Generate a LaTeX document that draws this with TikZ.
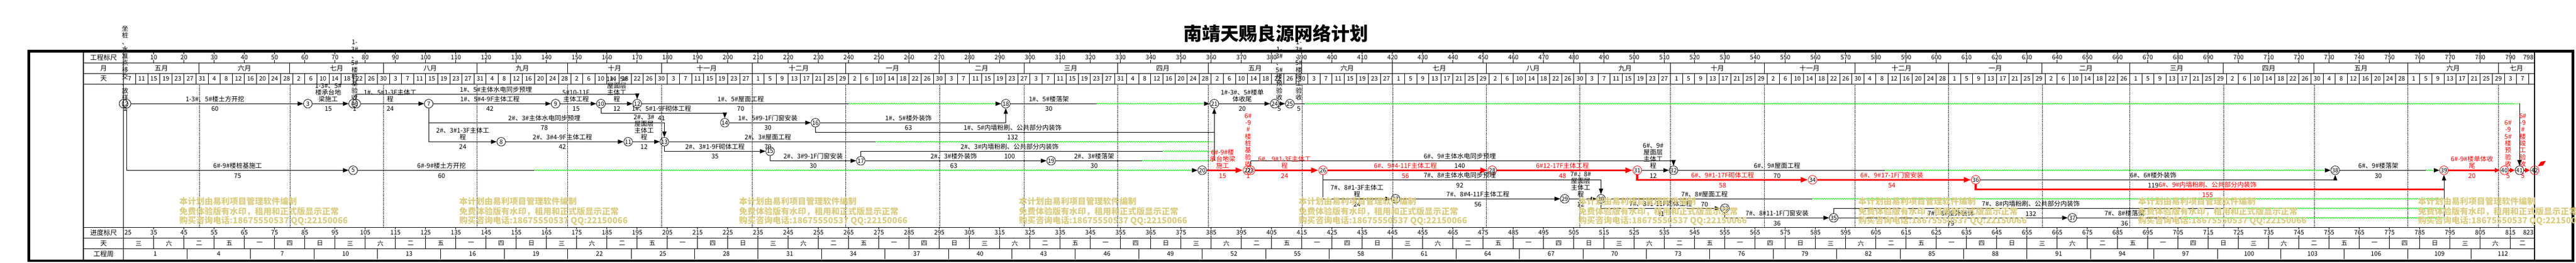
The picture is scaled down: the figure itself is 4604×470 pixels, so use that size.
\documentclass[tikz,border=0pt]{standalone}
\usepackage{fontspec}
\setmainfont{Noto Sans CJK SC}
\usetikzlibrary{arrows.meta,decorations.pathmorphing}
\definecolor{fgreen}{RGB}{0,235,0}
\definecolor{wmark}{RGB}{218,204,130}
\newcommand\myfs[2]{\fontsize{#1}{#2}\selectfont}
\newcount\mydd \newcount\mymi \newcount\myml \newcount\lc
\def\mymlen#1{\ifcase#1 31 \or 30 \or 31 \or 31 \or 30 \or 31 \or 30 \or 31 \or 31 \or 28 \or 31 \or 30 \or 31 \or 30 \or 31 \or 31 \or 30 \or 31 \or 30 \or 31 \or 31 \or 29 \or 31 \or 30 \or 31 \or 30 \or 31 \fi}
\def\wkname#1{\ifcase#1 日\or 一\or 二\or 三\or 四\or 五\or 六\fi}
\newcommand\alab[5]{\global\advance\lc by 1
  \node[lab,#5] (la\the\lc) at ({dx(#1)},{ly(#2)-2.6}) {#3};
  \node[dur,#5] (lb\the\lc) at ({dx(#1)},{ly(#2)+9.7}) {#4};}
\newcommand\vlab[5]{\global\advance\lc by 1
  \node[vlab,#5] (la\the\lc) at ({dx(#1)},{ly(#2)-5.3}) {#3};
  \node[dur0,#5] (lb\the\lc) at ({dx(#1)},{ly(#2)+9.7}) {#4};}
\begin{document}
\begin{tikzpicture}[x=1pt,y=-1pt,
  declare function={dx(\d)=220.8+5.4*\d; ly(\k)=168.3+17*\k;},
  nd/.style={circle,draw,line width=0.8pt,minimum size=15.5pt,inner sep=0pt,font=\myfs{10.5}{10.5}},
  act/.style={line width=0.9pt,-{Triangle[length=10pt,width=7.5pt]}},
  ln/.style={line width=0.9pt},
  cr/.style={line width=3.5pt,red,-{Triangle[length=13pt,width=9pt]}},
  crs/.style={line width=3.5pt,red,-{Triangle[length=9pt,width=8pt]}},
  crl/.style={line width=3.5pt,red},
  fl/.style={fgreen,line width=0.8pt,decorate,decoration={snake,amplitude=0.9pt,segment length=4pt,post length=10pt}},
  fla/.style={fl,-{Triangle[length=10pt,width=7.5pt,color=black]}},
  lab/.style={anchor=south,inner sep=0pt,align=center,text depth=1.4pt,font=\myfs{11.5}{12},xshift=-4pt},
  vlab/.style={anchor=south,inner sep=0pt,align=center,text depth=1.4pt,font=\myfs{11.5}{12.3}},
  dur0/.style={anchor=center,inner sep=0pt,text height=8pt,text depth=0pt,font=\myfs{11.5}{12}},
  dur/.style={dur0,xshift=-4pt},
  hnum/.style={inner sep=0pt,font=\myfs{11}{11}},
  hcol/.style={inner sep=0pt,font=\myfs{12}{12}},
  wm/.style={anchor=west,inner sep=0pt,text=wmark,font=\bfseries\myfs{15}{15}},
  rowl/.style={line width=1pt}
]
\useasboundingbox (0,0) rectangle (4604,470);
\foreach \k in {0,...,13} \coordinate (L\k) at (0,{ly(\k)});

% ---------- month lines and header month row ----------
\foreach \a/\b/\m [count=\c] in {0/25/五月,25/55/六月,55/86/七月,86/117/八月,117/147/九月,147/178/十月,178/208/十一月,208/239/十二月,239/270/一月,270/298/二月,298/329/三月,329/359/四月,359/390/五月,390/420/六月,420/451/七月,451/482/八月,482/512/九月,512/543/十月,543/573/十一月,573/604/十二月,604/635/一月,635/664/二月,664/695/三月,695/725/四月,725/756/五月,756/786/六月,786/798/七月}{
  \node[hcol] (mo\c) at ({dx((\a+\b)/2)},121.8) {\m};
  \ifnum\b<798
    \draw[line width=0.9pt] ({dx(\b)},112.3) -- ({dx(\b)},131.3);
    \draw[line width=0.6pt,densely dotted] ({dx(\b)},150.3) -- ({dx(\b)},406.7);
  \fi
}

% ---------- row lines ----------
\foreach \yy in {112.3,131.3,150.3,406.7,425.7,444.3} \draw[rowl] (149,\yy) -- (4530,\yy);

% ---------- scales ----------
\foreach \k in {1,...,79}{
  \pgfmathtruncatemacro\tv{10*\k}
  \pgfmathtruncatemacro\pv{10*\k+25}
  \draw[line width=0.8pt] ({dx(\tv)},94.3) -- ({dx(\tv)},97.5) ({dx(\tv)},107.5) -- ({dx(\tv)},112.3);
  \node[hnum] (gs\k) at ({dx(\tv)},103) {\tv};
  \draw[line width=0.8pt] ({dx(\tv)},406.7) -- ({dx(\tv)},410) ({dx(\tv)},420.5) -- ({dx(\tv)},425.7);
  \node[hnum] (js\k) at ({dx(\tv)},415.5) {\pv};
}
\node[hnum,anchor=east] (gsend) at (4528,103) {798};
\node[hnum,anchor=west] (js0) at (222.5,415.5) {25};
\node[hnum,anchor=east] (jsend) at (4528,415.5) {823};

% ---------- day row ----------
\global\mydd=7 \global\mymi=0
\foreach \i in {0,...,198}{
  \node[hnum] (dy\i) at ({dx(4*\i+2)},140.8) {\the\mydd};
  \draw[line width=0.9pt] ({dx(4*\i+4)},131.3) -- ({dx(4*\i+4)},150.3);
  \global\advance\mydd by 4
  \global\myml=\mymlen{\mymi}\relax
  \ifnum\mydd>\myml \global\advance\mydd by -\myml \global\advance\mymi by 1 \fi
}

% ---------- weekday row ----------
\foreach \k in {0,...,79}{
  \pgfmathtruncatemacro\w{mod(3+10*\k,7)}
  \pgfmathsetmacro\cx{min(10*\k+5,794)}
  \node[hnum] (wd\k) at ({dx(\cx)},435) {\wkname{\w}};
  \ifnum\k<79 \draw[line width=0.9pt] ({dx(10*\k+10)},425.7) -- ({dx(10*\k+10)},444.3); \fi
}

% ---------- week row ----------
\foreach \j in {0,...,37}{
  \pgfmathtruncatemacro\wn{3*\j+1}
  \node[hnum] (gz\j) at ({dx(21*\j+10.5)},453.8) {\wn};
  \ifnum\j<37 \draw[line width=0.9pt] ({dx(21*\j+21)},444.3) -- ({dx(21*\j+21)},463.3); \fi
}

% ---------- column labels ----------
\node[hcol] (c1) at (185,103) {工程标尺};
\node[hcol] (c2) at (185,121.8) {月};
\node[hcol] (c3) at (185,140.8) {天};
\node[hcol] (c4) at (185,416.2) {进度标尺};
\node[hcol] (c5) at (185,435) {天};
\node[hcol] (c6) at (185,453.8) {工程周};

% ---------- frame ----------
\draw[line width=2pt] (149,94) -- (149,463.6);
\draw[line width=1.2pt] (220.8,94) -- (220.8,463.6);
\draw[line width=1.2pt] (4530,94) -- (4530,463.6);
\draw[line width=4.7pt] (51.35,91.65) rectangle (4598.6,465.95);

% ---------- title ----------
\node[font=\bfseries\myfs{33}{33},inner sep=0pt] (title) at (2280,60) {南靖天赐良源网络计划};

% ---------- nodes ----------
\foreach \n/\d/\l/\c in {1/0/1/black,2/1/1/black,3/61/1/black,4/76/1/black,6/77/1/black,5/76/8/black,7/101/1/black,8/125/5/black,9/143/1/black,10/158/1/black,11/167/5/black,12/170/1/black,13/179/5/black,14/199/3/black,15/214/6/black,16/229/3/black,17/244/7/black,18/292/1/black,19/307/7/black,20/357/8/black,21/361/1/black,22/372/8/red,23/373/8/red,24/381/1/black,25/386/1/black,26/397/8/red,27/421/11/black,28/453/8/red,29/477/11/black,30/489/11/black,31/501/8/red,32/513/8/black,33/530/12/black,34/559/9/red,35/566/13/black,36/613/9/red,37/645/13/black,38/732/8/black,39/768/8/red,40/788/8/red,41/793/8/black,42/798/8/red}
  \node[nd,draw=\c] (n\n) at ({dx(\d)},{ly(\l)}) {\n};

\coordinate (e5) at ({dx(136)},{ly(8)});
\coordinate (e12) at ({dx(240)},{ly(1)});
\coordinate (e13) at ({dx(249)},{ly(5)});
\coordinate (e17) at ({dx(344)},{ly(6)});
\coordinate (e18) at ({dx(322)},{ly(1)});
\coordinate (e19) at ({dx(337)},{ly(7)});
\coordinate (e25) at ({dx(391)},{ly(1)});
\coordinate (e30) at ({dx(559)},{ly(11)});
\coordinate (e32) at ({dx(583)},{ly(8)});
\coordinate (e35) at ({dx(698)},{ly(12)});
\coordinate (e37) at ({dx(681)},{ly(13)});
\coordinate (e38) at ({dx(762)},{ly(8)});

% ---------- connectors ----------
\draw[act] (n2) -- (n3);
\draw[act] (n3) -- (n4);
\draw[act] (n6) -- (n7);
\draw[act] (n6) |- (n12 |- L0) -- (n12);
\draw[act] (n7) -- (n9);
\draw[act] (n9) -- (n10);
\draw[act] (n10) -- (n12);
\draw[act] (n10) |- (n14 |- L2) -- (n14);
\draw[act] (n7) |- (n13 |- L3) -- (n13);
\draw[act] (n7) |- (n8);
\draw[act] (n8) -- (n11);
\draw[act] (n11) -- (n13);
\draw[ln] (n12) -- (e12);
\draw[fla] (e12) -- (n18);
\draw[act] (n14) -- (n16);
\draw[ln] (n13) -- (e13);
\draw[fl] (e13) -- (n21 |- L5);
\draw[act] (n13) |- (n15);
\draw[act] (n15) |- (n17);
\draw[act] (n16) -| (n18);
\draw[ln] (n16) |- (n21 |- L4);
\draw[ln] (n18) -- (e18);
\draw[fla] (e18) -- (n21);
\draw[act] (n21) -- (n24);
\draw[act] (n24) -- (n25);
\draw[ln] (n25) -- (e25);
\draw[fl] (e25) -- (n41 |- L1);
\draw[act] (n41 |- L1) -- (n41);
\draw[act] (n17) -- (n19);
\draw[ln] (n17) |- (e17);
\draw[fl] (e17) -- (n21 |- L6);
\draw[ln] (n19) -- (e19);
\draw[fl] (e19) -- (n21 |- L7);
\draw[act] (n21 |- L7) -- (n21);
\draw[act] (n2) |- (n5);
\draw[ln] (n5) -- (e5);
\draw[fla] (e5) -- (n20);
\draw[cr] (n20) -- (n22);
\draw[cr] (n23) -- (n26);
\draw[act] (n23) |- (n32 |- L7) -- (n32);
\draw[cr] (n26) -- (n28);
\draw[cr] (n28) -- (n31);
\draw[act] (n31) -- (n32);
\draw[cr] (n31) |- (n34);
\draw[ln] (n32) -- (e32);
\draw[fla] (e32) -- (n38);
\draw[cr] (n34) -- (n36);
\draw[act] (n36) -| (n38);
\draw[crl] (n36) |- (n39 |- L10);
\draw[ln] (n38) -- (e38);
\draw[fla] (e38) -- (n39);
\draw[act] (n39 |- L13) -- (n39);
\draw[crs] (n39) -- (n40);
\draw[crs] (n40) -- (n41);
\draw[crs] (n41) -- (n42);
\draw[act] (n26) |- (n30 |- L9) -- (n30);
\draw[act] (n26) |- (n27);
\draw[act] (n27) -- (n29);
\draw[act] (n29) -- (n30);
\draw[ln] (n30) -- (e30);
\draw[fl] (e30) -- (n39 |- L11);
\draw[act] (n30) |- (n33);
\draw[act] (n33) |- (n35);
\draw[act] (n35) -- (n37);
\draw[ln] (n35) |- (e35);
\draw[fl] (e35) -- (n39 |- L12);
\draw[ln] (n37) -- (e37);
\draw[fl] (e37) -- (n39 |- L13);
\fill[red] (4536,297) -- (4541,289) -- (4550,287.5) -- (4545,296) -- cycle;

% ---------- activity labels ----------
\alab{31}{1}{1-3\#、5\#楼土方开挖}{60}{}
\alab{68.5}{1}{1-3\#、5\#\\楼承台地\\梁施工}{15}{}
\alab{89}{1}{1\#、5\#1-3F主体工\\程}{24}{}
\alab{122}{1}{1\#、5\#4-9F主体工程}{42}{}
\alab{150.5}{1}{5\#10-11F\\主体工程}{15}{}
\alab{164}{1}{1\#、5\#\\屋面层\\主体工\\程}{12}{}
\alab{205}{1}{1\#、5\#屋面工程}{70}{}
\alab{307}{1}{1\#、5\#楼落架}{30}{}
\alab{371}{1}{1\#-3\#、5\#楼单\\体收尾}{20}{}
\alab{124}{0}{1\#、5\#主体水电同步预埋}{}{}
\alab{178.8}{2}{1\#、5\#1-9F砌体工程}{41}{}
\alab{140}{3}{2\#、3\#主体水电同步预埋}{78}{}
\alab{214}{3}{1\#、5\#9-1F门窗安装}{30}{}
\alab{260.5}{3}{1\#、5\#楼外装饰}{63}{}
\alab{295}{4}{1\#、5\#内墙粉刷、公共部分内装饰}{132}{}
\alab{113}{5}{2\#、3\#1-3F主体工\\程}{24}{}
\alab{146}{5}{2\#、3\#4-9F主体工程}{42}{}
\alab{173}{5}{2\#、3\#\\屋面层\\主体工\\程}{12}{}
\alab{214}{5}{2\#、3\#屋面工程}{70}{}
\alab{196.5}{6}{2\#、3\#1-9F砌体工程}{35}{}
\alab{294}{6}{2\#、3\#内墙粉刷、公共部分内装饰}{100}{}
\alab{229}{7}{2\#、3\#9-1F门窗安装}{30}{}
\alab{275.5}{7}{2\#、3\#楼外装饰}{63}{}
\alab{322}{7}{2\#、3\#楼落架}{30}{}
\alab{443}{7}{6\#、9\#主体水电同步预埋}{140}{}
\alab{38.5}{8}{6\#-9\#楼桩基施工}{75}{}
\alab{106}{8}{6\#-9\#楼土方开挖}{60}{}
\alab{364.5}{8}{6\#-9\#楼\\承台地梁\\施工}{15}{text=red}
\alab{385}{8}{6\#、9\#1-3F主体工\\程}{24}{text=red}
\alab{425}{8}{6\#、9\#4-11F主体工程}{56}{text=red}
\alab{477}{8}{6\#12-17F主体工程}{48}{text=red}
\alab{507}{8}{6\#、9\#\\屋面层\\主体工\\程}{12}{}
\alab{548}{8}{6\#、9\#屋面工程}{70}{}
\alab{747}{8}{6\#、9\#楼落架}{30}{}
\alab{778}{8}{6\#-9\#楼单体收\\尾}{20}{text=red}
\alab{443}{9}{7\#、8\#主体水电同步预埋}{92}{}
\alab{530}{9}{6\#、9\#1-17F砌体工程}{58}{text=red}
\alab{586}{9}{6\#、9\#17-1F门窗安装}{54}{text=red}
\alab{672.5}{9}{6\#、6\#楼外装饰}{119}{}
\alab{690.5}{10}{6\#、9\#内墙粉刷、公共部分内装饰}{155}{text=red}
\alab{409}{11}{7\#、8\#1-3F主体工\\程}{24}{}
\alab{449}{11}{7\#、8\#4-11F主体工程}{56}{}
\alab{483}{11}{7\#、8\#\\屋面层\\主体工\\程}{12}{}
\alab{524}{11}{7\#、8\#屋面工程}{70}{}
\alab{509.5}{12}{7\#、8\#1-11F砌体工程}{41}{}
\alab{632}{12}{7\#、8\#内墙粉刷、公共部分内装饰}{132}{}
\alab{548}{13}{7\#、8\#11-1F门窗安装}{36}{}
\alab{605.5}{13}{7\#、8\#楼外装饰}{79}{}
\alab{663}{13}{7\#、8\#楼落架}{36}{}
\vlab{0.5}{1}{坐\\桩\\、\\水\\准\\点\\移\\交\\、\\放\\样}{1}{}
\vlab{76.5}{1}{1-\\3\#\\、\\5\#\\楼\\桩\\基\\验\\收}{1}{}
\vlab{382.5}{1}{1-\\3\#\\、\\5\#\\楼\\预\\验\\收}{5}{}
\vlab{389}{1}{1-\\3\#\\、\\5\#\\楼\\竣\\工\\验\\收}{5}{}
\vlab{372.2}{8}{6\#\\-9\\\#\\楼\\桩\\基\\验\\收}{1}{text=red}
\vlab{789.2}{8}{6\#\\-9\\5\#\\楼\\预\\验\\收}{5}{text=red}
\vlab{794.1}{8}{6\#\\-9\\\#\\楼\\竣\\工\\验\\收}{5}{text=red}

% ---------- watermark ----------
\foreach \j in {0,...,8}{
  \node[wm] (wa\j) at ({320.5+500.1*\j},360) {本计划由易利项目管理软件编制};
  \node[wm] (wb\j) at ({320.5+500.1*\j},378.3) {免费体验版有水印，租用和正式版显示正常};
  \node[wm] (wc\j) at ({320.5+500.1*\j},395) {购买咨询电话:18675550537 QQ:22150066};
}
\end{tikzpicture}
\end{document}
